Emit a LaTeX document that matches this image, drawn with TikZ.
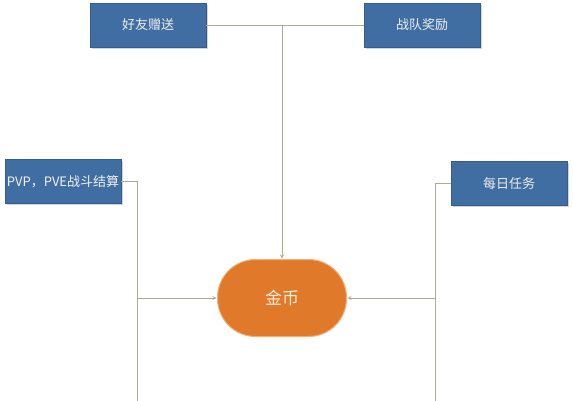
\documentclass[tikz,border=0pt]{standalone}
\usepackage{fontspec}
\usepackage{tikz}
\usetikzlibrary{arrows,shadows}
\newfontfamily\cjk{Noto Sans CJK SC}
\definecolor{boxblue}{RGB}{64,110,163}
\definecolor{boxedge}{RGB}{52,92,140}
\definecolor{coinorange}{RGB}{224,122,42}
\definecolor{coinedge}{RGB}{240,176,122}
\definecolor{wire}{RGB}{172,172,146}
\definecolor{wiretip}{RGB}{110,140,90}

\begin{document}
\begin{tikzpicture}[x=1pt,y=-1pt,
  source/.style={draw=boxedge,fill=boxblue,text=white!94!black,minimum width=116pt,minimum height=44pt,inner sep=0pt,
    font=\cjk\fontsize{13}{15}\selectfont,drop shadow={shadow xshift=1.6pt,shadow yshift=-1.6pt,opacity=0.35}},
  coin/.style={draw=coinedge,line width=1pt,fill=coinorange,text=orange!15!white,minimum width=129pt,minimum height=77pt,
    rounded corners=38pt,font=\cjk\fontsize{17}{19}\selectfont},
  wire/.style={draw=wire,line width=0.8pt},
  feed/.style={wire,->,>=stealth,shorten >=0.5pt}]
\useasboundingbox (0,0) rectangle (573,400);

\node[source] (friend) at (148,25) {好友赠送};
\node[source] (team) at (422,25) {战队奖励};
\node[source] (pvp) at (63,181.5) {PVP，PVE战斗结算};
\node[source] (daily) at (509,183.5) {每日任务};
\node[coin] (gold) at (282,298) {金币};

% top pair joins in the middle, then goes down
\coordinate (topjoin) at (282,25);
\draw[wire] (friend.east) -- (team.west);
\draw[feed] (topjoin) -- (gold.north);

% left and right feeders run off the bottom
\coordinate (lbot) at (137,401); \coordinate (ljoin) at (137,298);
\coordinate (rbot) at (435.5,401); \coordinate (rjoin) at (435.5,298);
\draw[wire] (pvp.east) -| (lbot);
\draw[wire] (daily.west) -| (rbot);
\draw[feed] (ljoin) -- (gold.west);
\draw[feed] (rjoin) -- (gold.east);

\end{tikzpicture}
\end{document}
